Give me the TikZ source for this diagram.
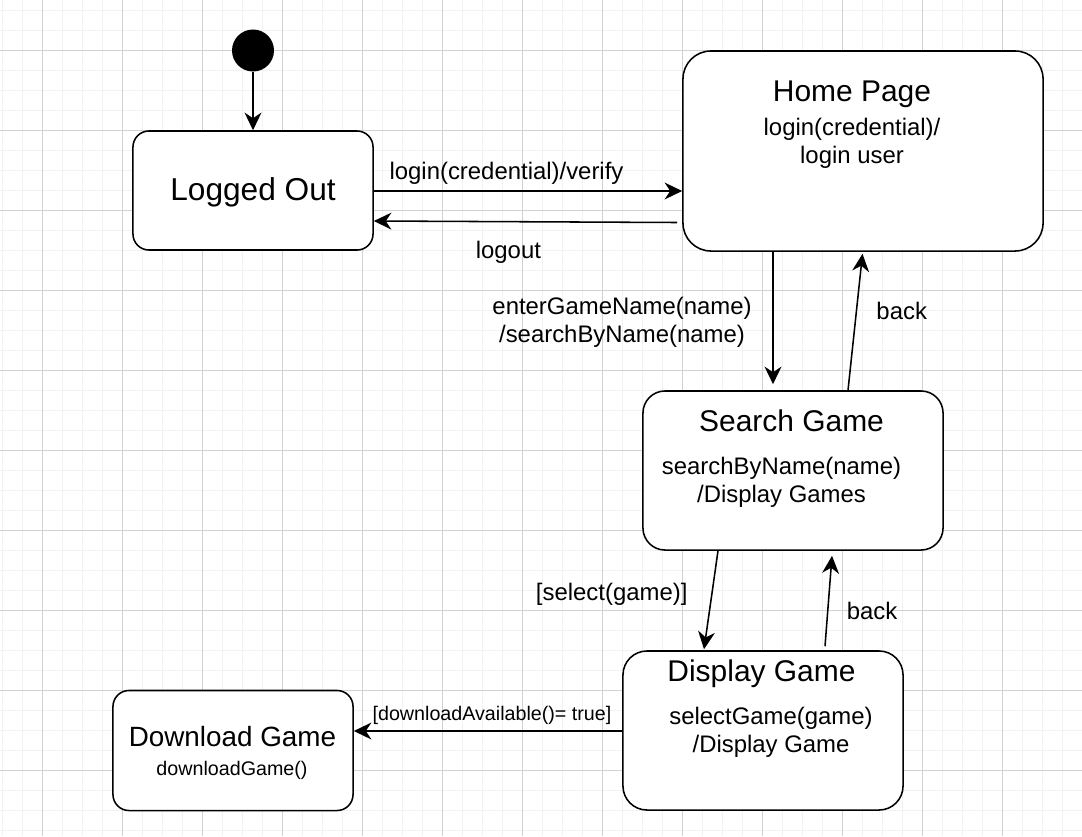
\documentclass[tikz,border=0pt]{standalone}
\usepackage{fontspec}
\setmainfont{Liberation Sans}
\usetikzlibrary{calc}
\usetikzlibrary{arrows.meta}

\begin{document}
\begin{tikzpicture}[x=0.025cm, y=-0.025cm,
    statebox/.style={draw, line width=1.1pt, fill=white, inner sep=0pt},
    titletext/.style={font=\fontsize{21.3}{25}\selectfont, anchor=base, inner sep=0pt},
    bodytext/.style={font=\fontsize{17}{19.8}\selectfont, align=center, anchor=base, inner sep=0pt},
    smalltext/.style={font=\fontsize{14}{17}\selectfont, anchor=base, inner sep=0pt},
    trans/.style={-{Stealth[length=12.5pt,width=12pt,inset=4pt]}, line width=1.1pt},
    minorgrid/.style={draw=black!5, line width=0.7pt},
    majorgrid/.style={draw=black!18, line width=0.7pt}]
            \useasboundingbox (0,0) rectangle (1082,836);
            
            % Background grid
            \fill[white] (0,0) rectangle (1082,836);
            \foreach \gx in {2.5,22.5,...,1082} \draw[minorgrid] (\gx,0) -- (\gx,836);
            \foreach \gy in {10.5,30.5,...,836} \draw[minorgrid] (0,\gy) -- (1082,\gy);
            \foreach \gx in {42.5,122.5,...,1082} \draw[majorgrid] (\gx,0) -- (\gx,836);
            \foreach \gy in {50.5,130.5,...,836} \draw[majorgrid] (0,\gy) -- (1082,\gy);
            
            % States
            \node[circle, fill=black, minimum size=1.05cm, inner sep=0pt] (init) at (253,50.5) {};
            \node[statebox, rounded corners=0.4cm, minimum width=6cm, minimum height=2.975cm] (loggedout) at (253,190.5) {};
            \node[statebox, rounded corners=0.7cm, minimum width=9cm, minimum height=5cm] (home) at (863,151) {};
            \node[statebox, rounded corners=0.55cm, minimum width=7.5cm, minimum height=3.975cm] (search) at (793,470.5) {};
            \node[statebox, rounded corners=0.6cm, minimum width=7cm, minimum height=3.975cm] (display) at (763,730.5) {};
            \node[statebox, rounded corners=0.4cm, minimum width=6cm, minimum height=3cm] (download) at (233,750.5) {};
            
            % State texts (two-line texts sit on their last baseline)
            \node[titletext, font=\fontsize{22.5}{26}\selectfont] (loggedoutT) at (253,200) {Logged Out};
            \node[titletext] (homeT) at (852,101.7) {Home Page};
            \node[bodytext] (homeB) at (852,163) {login(credential)/\\login user};
            \node[titletext] (searchT) at (791.5,431) {Search Game};
            \node[bodytext] (searchB) at (781.5,502.7) {searchByName(name)\\/Display Games};
            \node[titletext] (displayT) at (761.5,681.7) {Display Game};
            \node[bodytext] (displayB) at (771,752.7) {selectGame(game)\\/Display Game};
            \node[titletext, font=\fontsize{19.8}{23}\selectfont] (downloadT) at (232.5,746.7) {Download Game};
            \node[smalltext] (downloadB) at (232,775.7) {downloadGame()};
            
            % Transitions
            \draw[trans] (init) -- (loggedout);
            \draw[trans] (loggedout.east |- 0,191) -- (home.west |- 0,191);
            \draw[trans] ($(home.west |- 0,222.5)+(-5,0)$) -- (loggedout.east |- 0,221);
            \draw[trans] (home.south -| 773,0) -- ($(search.north -| 773,0)+(0,-6)$);
            \draw[trans] (search.north -| 848,0) -- ($(home.south -| 862.5,0)+(0,2)$);
            \draw[trans] (search.south -| 718,0) -- ($(display.north -| 704,0)+(0,-1)$);
            \draw[trans] ($(display.north -| 825,0)+(0,-4)$) -- ($(search.south -| 832,0)+(0,5)$);
            \draw[trans] (display.west |- 0,731) -- (download.east |- 0,731);
            
            % Transition labels
            \node[bodytext] (loginL) at (506.5,179.3) {login(credential)/verify};
            \node[bodytext] (logoutL) at (508.4,258) {logout};
            \node[bodytext] (enterL) at (622,342.7) {enterGameName(name)\\/searchByName(name)};
            \node[bodytext] (backHomeL) at (901.7,319) {back};
            \node[bodytext] (selectL) at (611.7,600) {[select(game)]};
            \node[bodytext] (backSearchL) at (872,619) {back};
            \node[smalltext] (downloadL) at (492,720) {[downloadAvailable()= true]};
            
        \end{tikzpicture}
\end{document}
